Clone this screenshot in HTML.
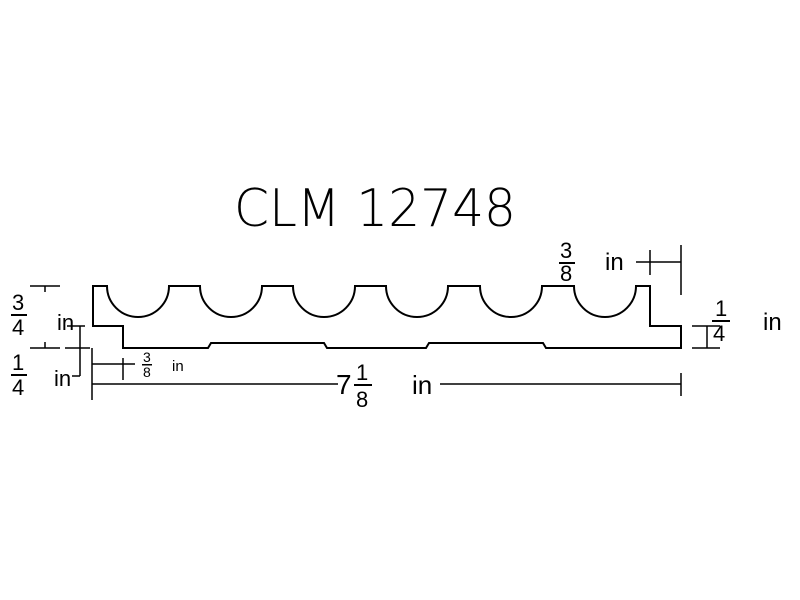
<!DOCTYPE html>
<html><head><style>body{margin:0;background:#fff}svg{display:block}</style></head><body>
<svg width="800" height="600" viewBox="0 0 800 600" xmlns="http://www.w3.org/2000/svg" font-family="Liberation Sans, sans-serif" fill="none" stroke="#000" stroke-width="2">
<text x="234" y="226" font-size="52" fill="#000" stroke="none" textLength="282" lengthAdjust="spacingAndGlyphs" style="font-family:'DejaVu Sans ExtraLight','DejaVu Sans',sans-serif;font-weight:200">CLM 12748</text>
<path d="M93,286 L107,286 A31,31 0 0 0 169,286 L200,286 A31,31 0 0 0 262,286 L293,286 A31,31 0 0 0 355,286 L386,286 A31,31 0 0 0 448,286 L480,286 A31,31 0 0 0 542,286 L574,286 A31,31 0 0 0 636,286 L650,286 L650,326 L681,326 L681,348 L546,348 L543,343 L429,343 L426,348 L327,348 L324,343 L211,343 L208,348 L123,348 L123,326 L93,326 Z"/>
<g stroke-width="1.5">
<path d="M30,286 H60 M45,286 V292 M30,348 H60 M65,348 H90 M45,348 V342"/>
<path d="M80,326 V376 M67,326 H85 M72,376 H80"/>
<path d="M92,348 V400 M92,364 H135 M123,358 V380 M92,384 H338 M440,384 H681 M681,373 V396"/>
<path d="M636,262 H681 M650,250 V275 M681,245 V295"/>
<path d="M692,326 H720 M692,348 H720 M707,326 V348"/>
</g>
<g fill="#000" stroke="none">
<text x="12" y="310" font-size="22">3</text><rect x="11" y="314" width="16" height="2"/><text x="12" y="335" font-size="22">4</text>
<text x="57" y="330" font-size="22">in</text>
<text x="12" y="370" font-size="22">1</text><rect x="11" y="374" width="16" height="2"/><text x="12" y="395" font-size="22">4</text>
<text x="54" y="386" font-size="22">in</text>
<text x="143" y="362" font-size="14">3</text><rect x="142" y="364" width="10" height="1.5"/><text x="143" y="377" font-size="14">8</text>
<text x="172" y="371" font-size="15">in</text>
<text x="336" y="394" font-size="28">7</text>
<text x="356" y="380" font-size="22">1</text><rect x="354" y="384" width="18" height="2"/><text x="356" y="407" font-size="22">8</text>
<text x="412" y="394" font-size="26">in</text>
<text x="560" y="258" font-size="22">3</text><rect x="559" y="262" width="16" height="2"/><text x="560" y="281" font-size="22">8</text>
<text x="605" y="270" font-size="24">in</text>
<text x="715" y="316" font-size="22">1</text><rect x="712" y="320" width="18" height="2"/><text x="713" y="341" font-size="22">4</text>
<text x="763" y="330" font-size="24">in</text>
</g>
</svg>
</body></html>
